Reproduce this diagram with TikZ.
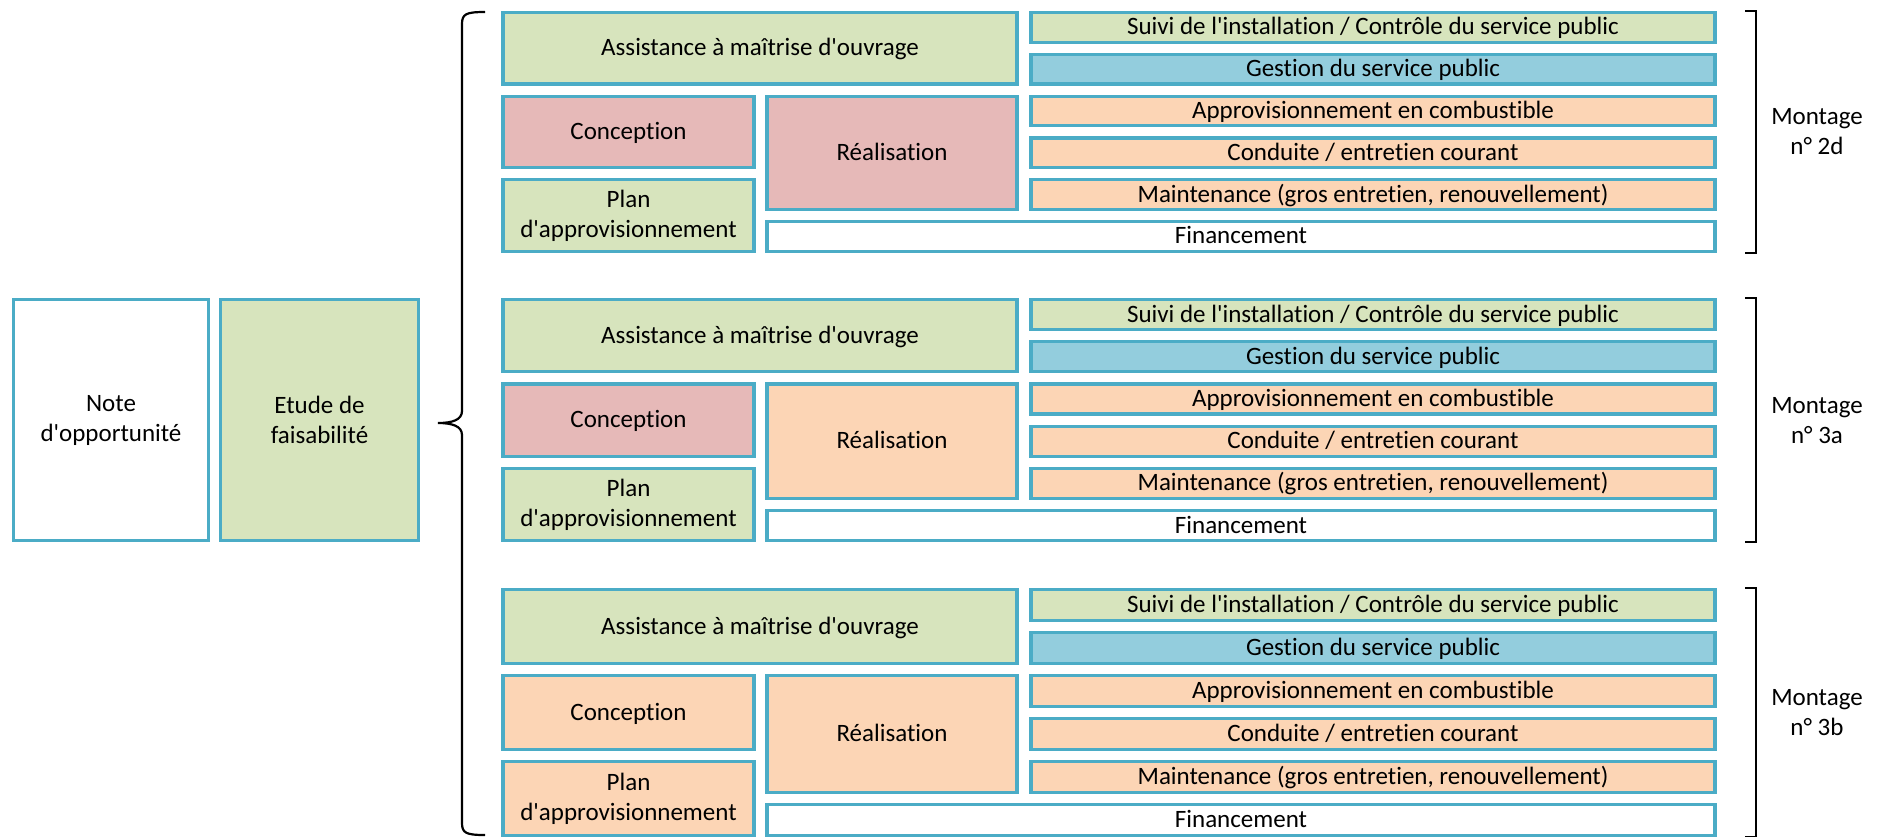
\documentclass[tikz,border=0pt]{standalone}
\usepackage{fontspec}
\setmainfont{Carlito}[Ligatures={TeXOff,CommonOff}]
\usepackage{tikz}

\definecolor{bordure}{RGB}{75,172,198}
\definecolor{vert}{RGB}{215,228,189}
\definecolor{rose}{RGB}{230,185,184}
\definecolor{peche}{RGB}{252,213,181}
\definecolor{bleu}{RGB}{147,205,221}

\tikzset{
    bloc/.style={draw=bordure, line width=3.3pt, inner sep=0pt, align=center,
        font=\fontsize{25}{30}\selectfont},
    une/.style={bloc, text height=20pt, text depth=5pt},
    trait/.style={line width=2.2pt, black},
}

\begin{document}
\begin{tikzpicture}[x=1pt, y=-1pt]
        \useasboundingbox (0,0) rectangle (1879,836);

        \node[bloc, fill=white, minimum width=194.8, minimum height=240.8] (note) at (111,420) {Note\\d'opportunité};
        \node[bloc, fill=vert, minimum width=197.8, minimum height=240.8] (etude) at (319.5,420) {Etude de\\faisabilité};

        % accolade
        \draw[trait] (485,12) .. controls (466,12) and (462,14) .. (462,24) -- (462,411)
            .. controls (462,420) and (452,423) .. (438,423)
            .. controls (452,423) and (462,426) .. (462,435) -- (462,823)
            .. controls (462,833) and (466,835) .. (485,835);

        \foreach \T/\p/\cConc/\cReal/\cPlan/\lab in {11/41.8/rose/rose/vert/2d, 298/42.2/rose/peche/vert/3a, 588/43/peche/peche/peche/3b}{
            \node[une, fill=vert, minimum width=514, minimum height=2*\p-12.2] (amo\lab) at (760,\T+\p-4.5) {Assistance à maîtrise d'ouvrage};
            \node[une, fill=\cConc, minimum width=251, minimum height=2*\p-12.2] (conc\lab) at (628.5,\T+3*\p-4.5) {Conception};
            \node[bloc, fill=\cPlan, minimum width=251, minimum height=2*\p-12.2] (plan\lab) at (628.5,\T+5*\p-4.5) {Plan\\d'approvisionnement};
            \node[une, fill=\cReal, minimum width=250, minimum height=3*\p-12.2] (real\lab) at (892,\T+3.5*\p-4.5) {Réalisation};
            \node[une, fill=white, minimum width=948, minimum height=\p-12.2] (fin\lab) at (1241,\T+5.5*\p-4.5) {Financement};

            \node[une, fill=vert, minimum width=684, minimum height=\p-12.2] (suivi\lab) at (1373,\T+0.5*\p-4.5) {Suivi de l'installation / Contrôle du service public};
            \node[une, fill=bleu, minimum width=684, minimum height=\p-12.2] (gest\lab) at (1373,\T+1.5*\p-4.5) {Gestion du service public};
            \node[une, fill=peche, minimum width=684, minimum height=\p-12.2] (appro\lab) at (1373,\T+2.5*\p-4.5) {Approvisionnement en combustible};
            \node[une, fill=peche, minimum width=684, minimum height=\p-12.2] (cond\lab) at (1373,\T+3.5*\p-4.5) {Conduite / entretien courant};
            \node[une, fill=peche, minimum width=684, minimum height=\p-12.2] (maint\lab) at (1373,\T+4.5*\p-4.5) {Maintenance (gros entretien, renouvellement)};

            % crochet et montage
            \draw[trait] (1745,\T) -- (1756,\T) -- (1756,\T+6*\p-9) -- (1745,\T+6*\p-9);
            \node[align=center, font=\fontsize{25}{30}\selectfont] (mont\lab) at (1817,\T+3*\p-4.5) {Montage\\n° \lab};
        }
\end{tikzpicture}
\end{document}
